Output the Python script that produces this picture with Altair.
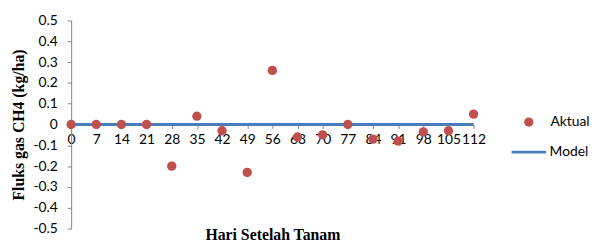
import altair as alt
import pandas as pd

days = [0, 7, 14, 21, 28, 35, 42, 49, 56, 63, 70, 77, 84, 91, 98, 105, 112]
aktual = [0.0, 0.0, 0.0, 0.0, -0.2, 0.04, -0.03, -0.23, 0.26, -0.06, -0.05, 0.0, -0.07, -0.08, -0.035, -0.03, 0.05]
model = [0, 0, 0, 0, 0, 0, 0, 0, 0, 0, 0, 0, 0, 0, 0, 0, 0]
y_ticks = [-0.5, -0.4, -0.3, -0.2, -0.1, 0.0, 0.1, 0.2, 0.3, 0.4, 0.5]

df_a = pd.DataFrame({"day": days, "value": aktual, "series": "Aktual"})
df_m = pd.DataFrame({"day": days, "value": model, "series": "Model"})

W, H = 408, 211
label_font = "Lato"
title_font = "Liberation Serif"

x_enc = alt.X(
    "day:Q",
    scale=alt.Scale(domain=[0, 112], nice=False, zero=False),
    axis=alt.Axis(
        values=days,
        offset=-H / 2,
        zindex=0,
        title="Hari Setelah Tanam",
        titleFont=title_font,
        titleFontSize=16,
        titleFontWeight="bold",
        titleColor="#000000",
        titleY=116.5,
        titleBaseline="alphabetic",
        labelFont=label_font,
        labelFontSize=14,
        labelColor="#000000",
        labelPadding=4,
        labelOverlap=False,
        labelFlush=False,
        labelBound=False,
        tickSize=4,
        tickColor="#868686",
        domainColor="#868686",
        grid=False,
    ),
)
y_enc = alt.Y(
    "value:Q",
    scale=alt.Scale(domain=[-0.5, 0.5], nice=False, zero=False),
    axis=alt.Axis(
        values=y_ticks,
        format=".1~f",
        labelExpr="replace(datum.label, '\u2212', '-')",
        zindex=0,
        title="Fluks gas CH4 (kg/ha)",
        titleFont=title_font,
        titleFontSize=16,
        titleFontWeight="bold",
        titleColor="#000000",
        titleX=-48,
        titleY=H / 2,
        titleAngle=270,
        titleBaseline="alphabetic",
        labelFont=label_font,
        labelFontSize=14,
        labelColor="#000000",
        labelPadding=10,
        tickSize=4,
        tickColor="#868686",
        domainColor="#868686",
        grid=False,
    ),
)

line = alt.Chart(df_m).mark_line(strokeWidth=3).encode(
    x=x_enc,
    y=y_enc,
    stroke=alt.Stroke(
        "series:N",
        scale=alt.Scale(domain=["Model"], range=["#4a7ebb"]),
        legend=alt.Legend(
            title=None,
            orient="none",
            legendX=445,
            legendY=114.5,
            padding=0,
            symbolType="stroke",
            symbolSize=1225,
            symbolStrokeWidth=3,
            labelOffset=2,
            labelFont=label_font,
            labelFontSize=14,
            labelColor="#000000",
        ),
    ),
)

points = alt.Chart(df_a).mark_point(filled=True, size=90, opacity=1).encode(
    x=x_enc,
    y=y_enc,
    color=alt.Color(
        "series:N",
        scale=alt.Scale(domain=["Aktual"], range=["#c0504d"]),
        legend=alt.Legend(
            title=None,
            orient="none",
            legendX=457,
            legendY=96,
            padding=0,
            symbolType="circle",
            symbolSize=90,
            symbolOpacity=1,
            labelOffset=15,
            labelFont=label_font,
            labelFontSize=14,
            labelColor="#000000",
        ),
    ),
)

chart = (
    alt.layer(line, points)
    .resolve_scale(color="independent", stroke="independent")
    .properties(
        width=W,
        height=H,
        autosize=alt.AutoSizeParams(type="none"),
        padding={"left": 64, "top": 11, "right": 117, "bottom": 14},
        background="white",
    )
    .configure_view(stroke=None)
)

chart.save("out.html", embed_options={"renderer": "svg", "actions": False})
